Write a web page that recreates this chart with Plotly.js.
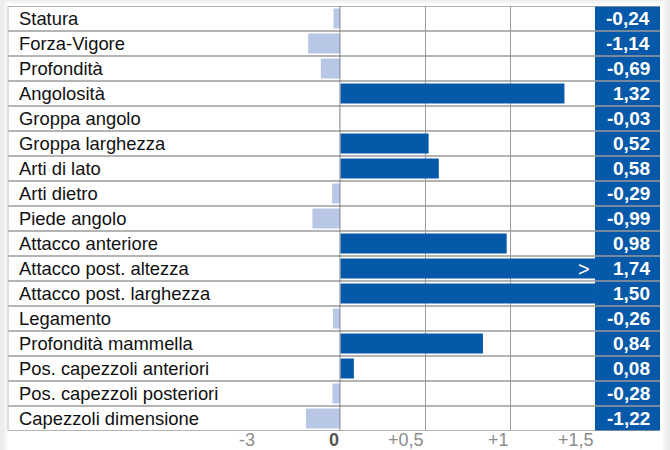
<!DOCTYPE html>
<html>
<head>
<meta charset="utf-8">
<script src="https://cdn.plot.ly/plotly-3.0.1.min.js"></script>
<style>html,body{margin:0;padding:0;background:#ececec;}#chart{width:670px;height:450px;}</style>
</head>
<body>
<div id="chart"></div>
<script>
// ---- data ----
const traits = [
  "Statura", "Forza-Vigore", "Profondità", "Angolosità", "Groppa angolo",
  "Groppa larghezza", "Arti di lato", "Arti dietro", "Piede angolo",
  "Attacco anteriore", "Attacco post. altezza", "Attacco post. larghezza",
  "Legamento", "Profondità mammella", "Pos. capezzoli anteriori",
  "Pos. capezzoli posteriori", "Capezzoli dimensione"
];
const values = [-0.24, -1.14, -0.69, 1.32, -0.03, 0.52, 0.58, -0.29, -0.99,
                0.98, 1.74, 1.50, -0.26, 0.84, 0.08, -0.28, -1.22];
const negTickVals = [-3, 0];
const negTickText = ["-3", "0"];
const posTickVals = [0.5, 1, 1.5];
const posTickText = ["+0,5", "+1", "+1,5"];
const negRange = [-3, 0];
const posRange = [0, 1.5];

// ---- layout helpers (pixel -> paper) ----
const W = 670, H = 450;
const px = x => x / W;
const py = y => 1 - y / H;
const tableTop = 6, tableBottom = 431, tableLeft = 8;
const zeroX = 340.3, negLeft = 255.7, posRight = 595, colRight = 660;

const DARK = "#0559a8", LIGHT = "#b9c7e7", GRID = "#9b9b9b";
const FONT = "Liberation Sans, Arial, sans-serif";

const negVals = values.map(v => v < 0 ? v : null);
const posVals = values.map(v => v >= 0 ? v : null);

const traces = [
  {type: "bar", orientation: "h", y: traits, x: negVals, xaxis: "x", yaxis: "y",
   marker: {color: LIGHT}, width: 0.8, hoverinfo: "skip"},
  {type: "bar", orientation: "h", y: traits, x: posVals, xaxis: "x2", yaxis: "y",
   marker: {color: DARK}, width: 0.8, hoverinfo: "skip"}
];

const shapes = [
  {type: "rect", xref: "paper", yref: "paper", x0: px(4), x1: px(666), y0: py(450), y1: py(1),
   fillcolor: "#f4f4f4", line: {width: 0}, layer: "below"},
  {type: "rect", xref: "paper", yref: "paper", x0: px(7), x1: px(663), y0: py(452), y1: py(3.5),
   fillcolor: "#ffffff", line: {width: 0}, layer: "below"},
  {type: "rect", xref: "paper", yref: "paper", x0: px(posRight), x1: px(colRight),
   y0: py(tableBottom), y1: py(tableTop), fillcolor: DARK, line: {width: 0}, layer: "above"}
];
for (let i = 0; i <= traits.length; i++) {
  shapes.push({type: "line", xref: "paper", yref: "y", x0: px(tableLeft), x1: px(colRight),
    y0: i - 0.5, y1: i - 0.5, line: {color: GRID, width: 1.5}, layer: "above"});
}
shapes.push({type: "line", xref: "paper", yref: "paper", x0: px(tableLeft), x1: px(tableLeft),
  y0: py(tableBottom), y1: py(tableTop), line: {color: "#bdbdbd", width: 1}, layer: "above"});
shapes.push({type: "line", xref: "x", yref: "paper", x0: 0, x1: 0,
  y0: py(tableBottom), y1: py(tableTop), line: {color: "#555", width: 1.3}, layer: "above"});

const fmt = v => v.toFixed(2).replace(".", ",");
const annotations = [];
traits.forEach((t, i) => {
  annotations.push({xref: "paper", yref: "y", x: px(17), y: t, xanchor: "left", yanchor: "middle",
    text: t, showarrow: false, font: {family: FONT, size: 18.4, color: "#111"}});
  annotations.push({xref: "paper", yref: "y", x: px(652), y: t, xanchor: "right", yanchor: "middle",
    text: fmt(values[i]), showarrow: false,
    font: {family: FONT, size: 19, color: "#ffffff", weight: "bold"}});
  if (values[i] > posRange[1]) {
    annotations.push({xref: "x2", yref: "y", x: posRange[1], y: t, xanchor: "right", yanchor: "middle",
      xshift: -3, text: ">", showarrow: false,
      font: {family: FONT, size: 20, color: "#ffffff"}});
  }
});
// tick labels (right-aligned to their grid lines)
negTickVals.forEach((v, i) => {
  const isZero = v === 0;
  annotations.push({xref: "x", yref: "paper", x: v, y: py(440), xanchor: "right", yanchor: "middle",
    text: isZero ? "<b>" + negTickText[i] + "</b>" : negTickText[i], showarrow: false, xshift: 1,
    font: {family: FONT, size: 18, color: isZero ? "#555" : "#8c8c8c"}});
});
posTickVals.forEach((v, i) => {
  annotations.push({xref: "x2", yref: "paper", x: v, y: py(440), xanchor: "right", yanchor: "middle",
    text: posTickText[i], showarrow: false, xshift: 1,
    font: {family: FONT, size: 18, color: "#8c8c8c"}});
});

const layout = {
  width: W, height: H,
  margin: {l: 0, r: 0, t: 0, b: 0},
  paper_bgcolor: "#ececec", plot_bgcolor: "rgba(0,0,0,0)",
  showlegend: false, barmode: "overlay",
  xaxis: {domain: [px(negLeft), px(zeroX)], range: negRange, anchor: "y",
    tickvals: negTickVals, showticklabels: false,
    showgrid: true, gridcolor: GRID, gridwidth: 1, zeroline: false, showline: false,
    ticks: "", fixedrange: true},
  xaxis2: {domain: [px(zeroX), px(posRight)], range: posRange, anchor: "y",
    tickvals: posTickVals, showticklabels: false,
    showgrid: true, gridcolor: GRID, gridwidth: 1, zeroline: false, showline: false,
    ticks: "", fixedrange: true},
  yaxis: {domain: [py(tableBottom), py(tableTop)], type: "category", categoryorder: "array",
    categoryarray: traits, range: [traits.length - 0.5, -0.5], showticklabels: false,
    showgrid: false, zeroline: false, ticks: "", fixedrange: true},
  shapes: shapes,
  annotations: annotations
};

Plotly.newPlot("chart", traces, layout, {displayModeBar: false, staticPlot: true});
</script>
</body>
</html>
